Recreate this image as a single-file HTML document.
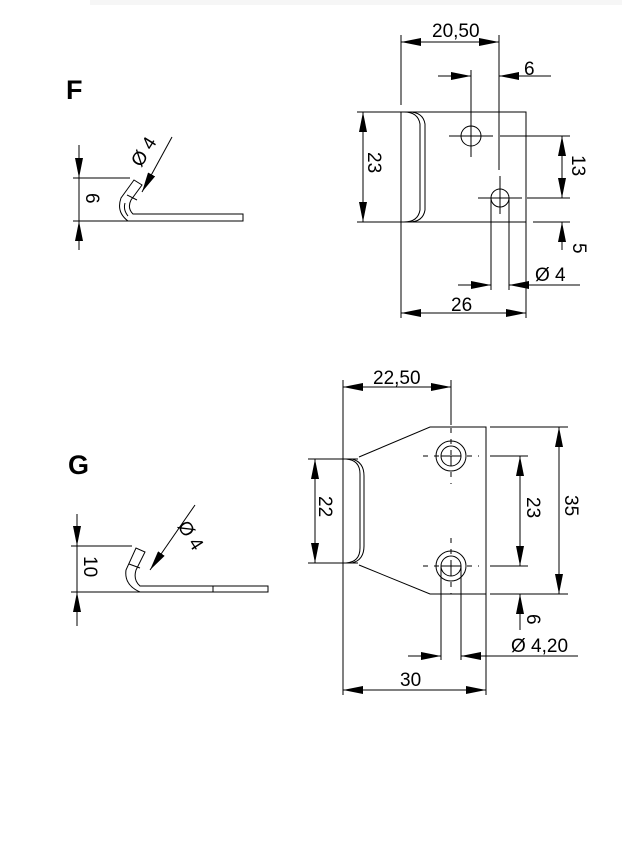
<!DOCTYPE html>
<html><head><meta charset="utf-8"><style>
html,body{margin:0;padding:0;background:#fff;}
svg{display:block;}
text{font-family:"Liberation Sans Narrow","Liberation Sans",sans-serif;fill:#000;}
</style></head><body>
<svg width="622" height="842" viewBox="0 0 622 842" xmlns="http://www.w3.org/2000/svg">
<defs>
<marker id="a" viewBox="0 0 20 8" refX="20" refY="4" markerWidth="20" markerHeight="8" markerUnits="userSpaceOnUse" orient="auto-start-reverse"><path d="M0,0 L20,4 L0,8 z" fill="#000"/></marker>
</defs>
<rect x="90" y="0" width="532" height="5" fill="#f6f6f6"/>
<g stroke="#000" stroke-width="1" fill="none">
<line x1="79" y1="145" x2="79" y2="178" marker-end="url(#a)"/>
<line x1="79" y1="250" x2="79" y2="221" marker-end="url(#a)"/>
<line x1="79" y1="178" x2="79" y2="221"/>
<line x1="73" y1="178" x2="130" y2="178"/>
<line x1="73" y1="221" x2="130" y2="221"/>
<path d="M128,221 Q116,212 121,198 L134,180 L142,185 L131,200 Q127,208 133,214 L243,214 L243,221 Z"/>
<path d="M125,203 Q123,210 128,216" />
<line x1="127" y1="195" x2="137" y2="200"/>
<line x1="172" y1="137" x2="142" y2="192" marker-end="url(#a)"/>
<line x1="77" y1="514" x2="77" y2="546" marker-end="url(#a)"/>
<line x1="77" y1="626" x2="77" y2="592" marker-end="url(#a)"/>
<line x1="77" y1="546" x2="77" y2="592"/>
<line x1="71" y1="546" x2="132" y2="546"/>
<line x1="71" y1="592" x2="140" y2="592"/>
<path d="M140,592 Q124,585 126,570 L136,548 L145,552 L136,570 Q133,580 140,586 L268,586 L268,592 Z"/>
<line x1="213" y1="586" x2="213" y2="592"/>
<line x1="129" y1="564" x2="140" y2="568"/>
<line x1="195" y1="505" x2="150" y2="570" marker-end="url(#a)"/>
<rect x="401" y="112" width="125" height="110"/>
<path d="M404,112 Q418,112 420,124 L420,210 Q418,222 404,222"/>
<path d="M409,112 Q423,112 425,124 L425,210 Q423,222 409,222"/>
<circle cx="471" cy="136" r="10"/>
<circle cx="500" cy="198" r="9"/>
<line x1="491" y1="198" x2="491" y2="290"/>
<line x1="509" y1="198" x2="509" y2="290"/>
<line x1="449" y1="136" x2="493" y2="136"/>
<line x1="471" y1="70" x2="471" y2="157"/>
<line x1="478" y1="198" x2="522" y2="198"/>
<line x1="500" y1="176" x2="500" y2="214"/>
<line x1="401" y1="35" x2="401" y2="105"/>
<line x1="499" y1="35" x2="499" y2="170"/>
<line x1="401" y1="42" x2="499" y2="42" marker-start="url(#a)" marker-end="url(#a)"/>
<line x1="438" y1="76" x2="471" y2="76" marker-end="url(#a)"/>
<line x1="551" y1="76" x2="499" y2="76" marker-end="url(#a)"/>
<line x1="357" y1="112" x2="401" y2="112"/>
<line x1="357" y1="222" x2="401" y2="222"/>
<line x1="363" y1="112" x2="363" y2="222" marker-start="url(#a)" marker-end="url(#a)"/>
<line x1="500" y1="136" x2="570" y2="136"/>
<line x1="527" y1="198" x2="570" y2="198"/>
<line x1="533" y1="222" x2="570" y2="222"/>
<line x1="562" y1="136" x2="562" y2="198" marker-start="url(#a)" marker-end="url(#a)"/>
<line x1="562" y1="250" x2="562" y2="222" marker-end="url(#a)"/>
<line x1="458" y1="285" x2="491" y2="285" marker-end="url(#a)"/>
<line x1="580" y1="285" x2="509" y2="285" marker-end="url(#a)"/>
<line x1="526" y1="222" x2="526" y2="318"/>
<line x1="401" y1="222" x2="401" y2="318"/>
<line x1="401" y1="313" x2="526" y2="313" marker-start="url(#a)" marker-end="url(#a)"/>
<line x1="343" y1="380" x2="343" y2="695"/>
<path d="M343,459 L358,459 M343,563 L358,563"/>
<path d="M346,459 Q360,460 360,474 L360,548 Q360,562 346,563"/>
<path d="M352,459 Q364,462 364,476 L364,546 Q364,560 352,563"/>
<path d="M359,457 L430,427 L486,427 L486,594 L430,594 L359,565"/>
<circle cx="451" cy="456" r="15"/><circle cx="451" cy="456" r="10"/>
<circle cx="451" cy="566" r="15"/><circle cx="451" cy="566" r="10"/>
<line x1="441" y1="566" x2="441" y2="660"/>
<line x1="461" y1="566" x2="461" y2="660"/>
<path d="M423,456 L479,456 M451,428 L451,484 M423,566 L479,566 M451,538 L451,594" stroke-dasharray="5,6"/>
<line x1="451" y1="456" x2="451" y2="466"/><line x1="441" y1="456" x2="461" y2="456"/>
<line x1="451" y1="560" x2="451" y2="576"/><line x1="441" y1="566" x2="461" y2="566"/>
<line x1="451" y1="380" x2="451" y2="425"/>
<line x1="343" y1="387" x2="451" y2="387" marker-start="url(#a)" marker-end="url(#a)"/>
<line x1="308" y1="459" x2="343" y2="459"/>
<line x1="308" y1="563" x2="343" y2="563"/>
<line x1="315" y1="459" x2="315" y2="563" marker-start="url(#a)" marker-end="url(#a)"/>
<line x1="490" y1="456" x2="528" y2="456"/>
<line x1="490" y1="566" x2="528" y2="566"/>
<line x1="490" y1="427" x2="568" y2="427"/>
<line x1="490" y1="594" x2="568" y2="594"/>
<line x1="520" y1="456" x2="520" y2="566" marker-start="url(#a)" marker-end="url(#a)"/>
<line x1="559" y1="427" x2="559" y2="594" marker-start="url(#a)" marker-end="url(#a)"/>
<line x1="520" y1="630" x2="520" y2="594" marker-end="url(#a)"/>
<line x1="408" y1="656" x2="441" y2="656" marker-end="url(#a)"/>
<line x1="578" y1="656" x2="461" y2="656" marker-end="url(#a)"/>
<line x1="486" y1="594" x2="486" y2="695"/>
<line x1="343" y1="690" x2="486" y2="690" marker-start="url(#a)" marker-end="url(#a)"/>
</g>
<g font-size="19">
<text x="66" y="99" font-size="27" font-weight="bold" font-family="Liberation Sans">F</text>
<text x="68" y="474" font-size="27" font-weight="bold" font-family="Liberation Sans">G</text>
<text x="432" y="37">20,50</text>
<text x="524" y="75">6</text>
<text x="535" y="281">Ø 4</text>
<text x="451" y="311">26</text>
<text transform="translate(368,152) rotate(90)">23</text>
<text transform="translate(572,155) rotate(90)">13</text>
<text transform="translate(573,243) rotate(90)">5</text>
<text transform="translate(86,193) rotate(90)">6</text>
<text transform="translate(141,168) rotate(-58)">Ø 4</text>
<text transform="translate(84,556) rotate(90)">10</text>
<text transform="translate(177,526) rotate(57)">Ø 4</text>
<text x="373" y="384">22,50</text>
<text transform="translate(319,496) rotate(90)">22</text>
<text transform="translate(527,497) rotate(90)">23</text>
<text transform="translate(565,495) rotate(90)">35</text>
<text transform="translate(527,614) rotate(90)">6</text>
<text x="511" y="652">Ø  4,20</text>
<text x="400" y="686">30</text>
</g>
</svg>
</body></html>
